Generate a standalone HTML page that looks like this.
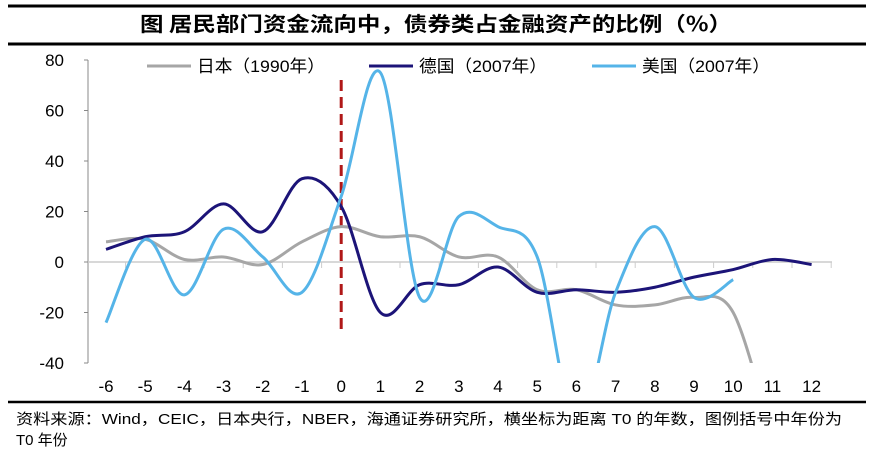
<!DOCTYPE html>
<html style="overflow:hidden"><head><meta charset="utf-8"><style>
html,body{margin:0;padding:0;background:#fff;width:874px;height:454px;overflow:hidden;font-family:"Liberation Sans","Noto Sans CJK SC",sans-serif}
svg{display:block;position:absolute;left:0;top:0}
</style></head><body>
<svg id="c" width="874" height="454">
<line x1="8" y1="6" x2="866" y2="6" stroke="#000" stroke-width="3"/>
<text x="140" y="31" textLength="592" lengthAdjust="spacingAndGlyphs" font-size="20" font-weight="bold" font-family="'Noto Sans CJK SC',sans-serif">图 居民部门资金流向中，债券类占金融资产的比例（%）</text>
<line x1="8" y1="44" x2="866" y2="44" stroke="#000" stroke-width="3"/>
<line x1="8" y1="402" x2="866" y2="402" stroke="#000" stroke-width="2.5"/>
<text x="16" y="424" textLength="826" lengthAdjust="spacingAndGlyphs" font-size="15" font-family="'Liberation Sans','Noto Sans CJK SC',sans-serif">资料来源：Wind，CEIC，日本央行，NBER，海通证券研究所，横坐标为距离 T0 的年数，图例括号中年份为</text>
<text x="16" y="445" font-size="15" font-family="'Liberation Sans','Noto Sans CJK SC',sans-serif">T0 年份</text>
<g id="plot"></g>
</svg>
<script>
const years=[-6,-5,-4,-3,-2,-1,0,1,2,3,4,5,6,7,8,9,10,11,12];
const yTicks=[80,60,40,20,0,-20,-40];
const japan=[8,9,1,2,-1,8,14,10,10,2,2,-11,-11,-17,-17,-14,-20,-70];
const germany=[5,10,12,23,12,33,22,-20,-9,-9,-2,-12,-11,-12,-10,-6,-3,1,-1];
const usa=[-24,9,-13,13,2,-12,26,75,-14,18,14,2,-65,-12,14,-14,-7];
const x0=106,dx=39.2;
const X=i=>x0+i*dx;
const Y=v=>262-v*2.525;
const NS="http://www.w3.org/2000/svg";
const g=document.getElementById('plot');
function mk(t,a){const e=document.createElementNS(NS,t);for(const k in a)e.setAttribute(k,a[k]);g.appendChild(e);return e;}
const defs=mk('defs',{});
const cp=document.createElementNS(NS,'clipPath');cp.setAttribute('id','clip');
const r=document.createElementNS(NS,'rect');r.setAttribute('x',0);r.setAttribute('y',Y(80)-20);r.setAttribute('width',874);r.setAttribute('height',Y(-40)-Y(80)+20);
cp.appendChild(r);defs.appendChild(cp);
const ax=mk('line',{x1:88,y1:Y(80),x2:88,y2:Y(-40),stroke:'#888','stroke-width':1});

yTicks.forEach(v=>{
 const t=mk('line',{x1:84,y1:Y(v),x2:88,y2:Y(v),stroke:'#888'});
 
 const l=mk('text',{x:64,y:Y(v)+6,'text-anchor':'end','font-size':17});l.textContent=v;
 
});
const za=mk('line',{x1:88,y1:Y(0),x2:832,y2:Y(0),stroke:'#ccc','stroke-width':1.5});

years.forEach((yr,i)=>{
 const t=mk('line',{x1:X(i)+dx/2,y1:Y(0),x2:X(i)+dx/2,y2:Y(0)+6,stroke:'#ccc'});
 
 const l=mk('text',{x:X(i),y:392,'text-anchor':'middle','font-size':17});l.textContent=yr;
 
});
const vl=mk('line',{x1:X(6),y1:80,x2:X(6),y2:332,stroke:'#b01818','stroke-width':3,'stroke-dasharray':'11,6'});

function path(d){
 const p=d.map((v,i)=>[X(i),Y(v)]);let s=`M${p[0][0]},${p[0][1]}`;const t=0.5/3*2;
 for(let i=0;i<p.length-1;i++){const a=p[i-1]||p[i],b=p[i],c=p[i+1],e=p[i+2]||c;
 s+=` C${b[0]+(c[0]-a[0])*t/2},${b[1]+(c[1]-a[1])*t/2} ${c[0]-(e[0]-b[0])*t/2},${c[1]-(e[1]-b[1])*t/2} ${c[0]},${c[1]}`;}
 return s;}
const series=[[japan,'#a6a6a6','japan-line'],[germany,'#1c1478','germany-line'],[usa,'#55b4e8','usa-line']];
series.forEach(([d,c,n])=>{
 const e=mk('path',{d:path(d),fill:'none',stroke:c,'stroke-width':3,'clip-path':'url(#clip)'});
 
});
const leg=[['日本（1990年）','#a6a6a6',147],['德国（2007年）','#1c1478',369],['美国（2007年）','#55b4e8',592]];
leg.forEach(([t,c,x])=>{
 const l=mk('line',{x1:x,y1:66,x2:x+44,y2:66,stroke:c,'stroke-width':3});
 
 const tx=mk('text',{x:x+50,y:72,'font-size':17,textLength:128,lengthAdjust:'spacingAndGlyphs'});tx.textContent=t;
 
});
</script>
</body></html>
